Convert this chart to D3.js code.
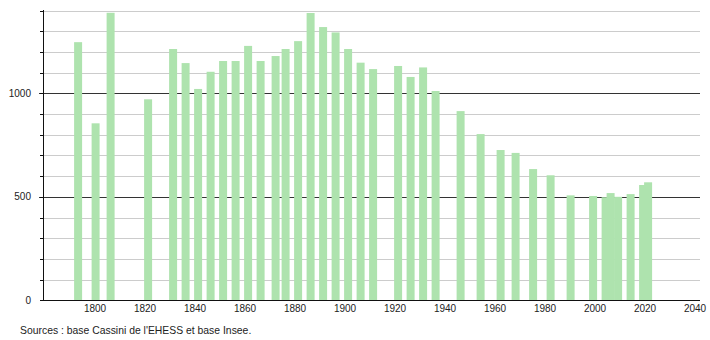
<!DOCTYPE html>
<html>
<head>
<meta charset="utf-8">
<script src="https://cdn.jsdelivr.net/npm/d3@7"></script>
<style>
  html, body { margin: 0; padding: 0; background: #fff; }
  svg { display: block; }
  text { font-family: "Liberation Sans", Arial, sans-serif; fill: #222; }
</style>
</head>
<body>
<svg id="chart" width="710" height="340"></svg>
<script>
const years = [1793,1800,1806,1821,1831,1836,1841,1846,1851,1856,1861,1866,1872,1876,1881,1886,1891,1896,1901,1906,1911,1921,1926,1931,1936,1946,1954,1962,1968,1975,1982,1990,1999,2004,2006,2009,2014,2019,2021];
const population = [1247,855,1389,971,1214,1146,1021,1104,1156,1156,1229,1156,1180,1214,1252,1388,1320,1294,1214,1148,1117,1132,1079,1125,1011,914,803,726,712,634,604,507,504,498,518,500,513,557,570];
const xTicks = [1800,1820,1840,1860,1880,1900,1920,1940,1960,1980,2000,2020,2040];
const yLabels = [0,500,1000];
const yGrid = d3.range(0, 1401, 100);
const sourceText = "Sources : base Cassini de l'EHESS et base Insee.";

const svg = d3.select("#chart");
const x = d3.scaleLinear().domain([1779.6, 2042]).range([44, 700]);
const y = d3.scaleLinear().domain([0, 1400]).range([300.3, 10.5]);

// grid lines
svg.append("g").selectAll("line").data(yGrid.filter(d => d > 0)).join("line")
  .attr("x1", d => (d % 500 === 0) ? 39 : 40)
  .attr("x2", 700)
  .attr("y1", d => Math.round(y(d)) + 0.5)
  .attr("y2", d => Math.round(y(d)) + 0.5)
  .attr("stroke", d => (d % 500 === 0) ? "#333" : "#ccc")
  .attr("stroke-width", 1);

// small ticks on the y axis
svg.append("g").selectAll("line").data(yGrid).join("line")
  .attr("x1", 40).attr("x2", 44)
  .attr("y1", d => Math.round(y(d)) + 0.5)
  .attr("y2", d => Math.round(y(d)) + 0.5)
  .attr("stroke", "#111");

// bars
const data = years.map((yr, i) => ({year: yr, value: population[i]}));
svg.append("g").selectAll("rect").data(data).join("rect")
  .attr("x", d => x(d.year) - 3.4)
  .attr("width", 8)
  .attr("y", d => y(d.value))
  .attr("height", d => y(0) - y(d.value))
  .attr("fill", "#aee3ae");

// axes lines
svg.append("line").attr("x1", 43.5).attr("x2", 43.5).attr("y1", 10).attr("y2", 300.5)
  .attr("stroke", "#111");
svg.append("line").attr("x1", 40).attr("x2", 700).attr("y1", 300.5).attr("y2", 300.5)
  .attr("stroke", "#111");

// y labels
svg.append("g").selectAll("text").data(yLabels).join("text")
  .attr("x", 31)
  .attr("y", d => y(d) + 3.5)
  .attr("text-anchor", "end")
  .attr("font-size", 10)
  .text(d => d);

// x labels
svg.append("g").selectAll("text").data(xTicks).join("text")
  .attr("x", d => x(d))
  .attr("y", 311.5)
  .attr("text-anchor", "middle")
  .attr("font-size", 10)
  .text(d => d);

// source
svg.append("text").attr("x", 20).attr("y", 333.5)
  .attr("font-size", 10.4)
  .text(sourceText);
</script>
</body>
</html>
